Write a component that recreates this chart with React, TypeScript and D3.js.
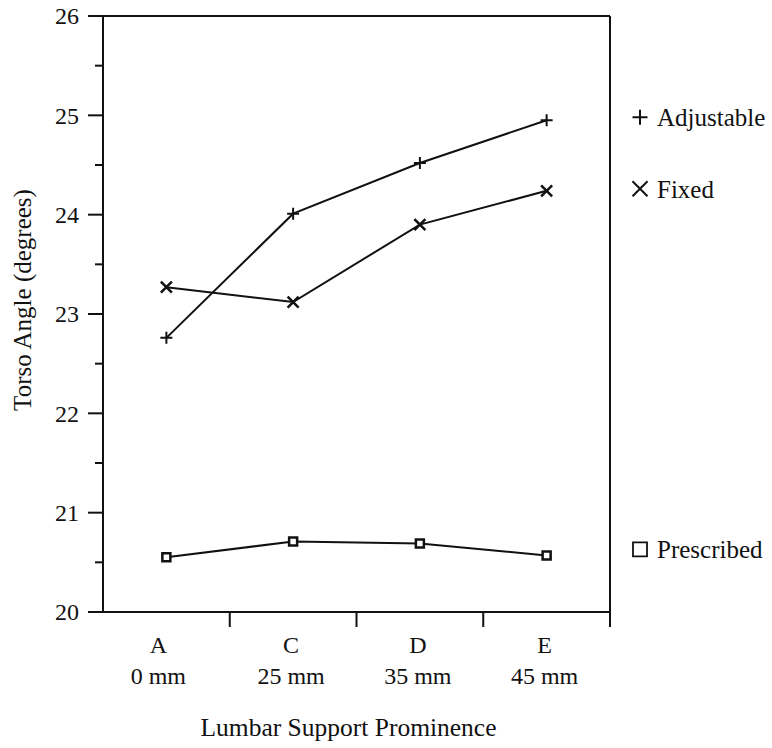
import React, { useEffect, useRef } from 'react';
import * as d3 from 'd3';

const CATEGORIES = ['A', 'C', 'D', 'E'];
const CATEGORY_MM = ['0 mm', '25 mm', '35 mm', '45 mm'];
const ADJUSTABLE = [22.76, 24.01, 24.52, 24.95];
const FIXED = [23.27, 23.12, 23.9, 24.24];
const PRESCRIBED = [20.55, 20.71, 20.69, 20.57];
const Y_TICKS = [20, 21, 22, 23, 24, 25, 26];
const Y_MINOR = [20.5, 21.5, 22.5, 23.5, 24.5, 25.5];

const SERIES = [
  { name: 'Adjustable', values: ADJUSTABLE, marker: 'plus', legendDy: -3 },
  { name: 'Fixed', values: FIXED, marker: 'cross', legendDy: -2 },
  { name: 'Prescribed', values: PRESCRIBED, marker: 'square', legendDy: -6 },
];

const FONT = '"Liberation Serif", "Times New Roman", serif';

function markerPath(kind: string, s: number) {
  if (kind === 'plus') return `M${-s},0H${s}M0,${-s}V${s}`;
  if (kind === 'cross') return `M${-s},${-s}L${s},${s}M${-s},${s}L${s},${-s}`;
  return `M${-s},${-s}H${s}V${s}H${-s}Z`;
}

export default function App() {
  const svgRef = useRef<SVGSVGElement>(null);

  useEffect(() => {
    const width = 772;
    const height = 748;
    const margin = { top: 16, right: 162, bottom: 136, left: 103 };
    const innerW = width - margin.left - margin.right;
    const innerH = height - margin.top - margin.bottom;

    const svg = d3.select(svgRef.current);
    svg.selectAll('*').remove();
    svg.attr('width', width).attr('height', height).attr('viewBox', `0 0 ${width} ${height}`);

    const x = d3.scaleBand<string>().domain(CATEGORIES).range([margin.left, margin.left + innerW]);
    const y = d3.scaleLinear().domain([20, 26]).range([margin.top + innerH, margin.top]);
    const cx = (c: string) => (x(c) as number) + x.bandwidth() / 2;

    const ink = '#111';

    // Frame: left, bottom, top, right
    const x0 = margin.left, x1 = margin.left + innerW;
    const yb = y(20), yt = y(26);
    const frame = svg.append('g').attr('stroke', ink).attr('stroke-width', 2).attr('fill', 'none');
    frame.append('line').attr('x1', x0).attr('x2', x0).attr('y1', yt).attr('y2', yb);
    frame.append('line').attr('x1', x0 - 15).attr('x2', x1).attr('y1', yb).attr('y2', yb);
    frame.append('line').attr('x1', x0 - 15).attr('x2', x1).attr('y1', yt).attr('y2', yt);
    frame.append('line').attr('x1', x1).attr('x2', x1).attr('y1', yt).attr('y2', yb + 15);

    // Y ticks
    Y_TICKS.forEach(t => {
      frame.append('line').attr('x1', x0 - 15).attr('x2', x0).attr('y1', y(t)).attr('y2', y(t));
      svg.append('text').attr('x', x0 - 24).attr('y', y(t)).attr('dy', '0.35em')
        .attr('text-anchor', 'end').style('font-family', FONT).style('font-size', '24px')
        .style('fill', ink).text(t);
    });
    Y_MINOR.forEach(t => {
      frame.append('line').attr('x1', x0 - 8).attr('x2', x0).attr('y1', y(t)).attr('y2', y(t));
    });

    // X ticks at band boundaries (skip the left edge)
    CATEGORIES.forEach((c, i) => {
      const bx = (x(c) as number) + x.bandwidth();
      if (i < CATEGORIES.length - 1) {
        frame.append('line').attr('x1', bx).attr('x2', bx).attr('y1', yb).attr('y2', yb + 15);
      }
      const lx = cx(c) + (i === 0 ? -8 : -2);
      svg.append('text').attr('x', lx).attr('y', yb + 41).attr('text-anchor', 'middle')
        .style('font-family', FONT).style('font-size', '24px').style('fill', ink).text(c);
      svg.append('text').attr('x', lx).attr('y', yb + 72).attr('text-anchor', 'middle')
        .style('font-family', FONT).style('font-size', '24px').style('fill', ink).text(CATEGORY_MM[i]);
    });

    // Axis titles
    svg.append('text').attr('x', (x0 + x1) / 2 - 8).attr('y', yb + 124).attr('text-anchor', 'middle')
      .style('font-family', FONT).style('font-size', '25.5px').style('fill', ink)
      .text('Lumbar Support Prominence');
    svg.append('text').attr('transform', `translate(31,300) rotate(-90)`)
      .attr('text-anchor', 'middle').style('font-family', FONT).style('font-size', '25px')
      .style('fill', ink).text('Torso Angle (degrees)');

    // Series
    const line = d3.line<number>().x((_, i) => cx(CATEGORIES[i])).y(v => y(v));
    SERIES.forEach(s => {
      svg.append('path').datum(s.values).attr('d', line)
        .attr('fill', 'none').attr('stroke', ink).attr('stroke-width', 2);
      const size = s.marker === 'square' ? 4 : s.marker === 'cross' ? 5.5 : 6;
      s.values.forEach((v, i) => {
        svg.append('path').attr('transform', `translate(${cx(CATEGORIES[i])},${y(v)})`)
          .attr('d', markerPath(s.marker, size))
          .attr('fill', s.marker === 'square' ? 'white' : 'none')
          .attr('stroke', ink).attr('stroke-width', s.marker === 'plus' ? 2 : 2.5);
      });

      // Legend entry, aligned with the last point
      const ly = y(s.values[s.values.length - 1]) + s.legendDy;
      const ms = s.marker === 'square' ? 7 : 7.5;
      svg.append('path').attr('transform', `translate(640,${ly})`)
        .attr('d', markerPath(s.marker, ms)).attr('fill', 'none')
        .attr('stroke', ink).attr('stroke-width', s.marker === 'square' ? 1.8 : 2);
      svg.append('text').attr('x', 657).attr('y', ly).attr('dy', '0.35em')
        .style('font-family', FONT).style('font-size', '25px').style('fill', ink).text(s.name);
    });
  }, []);

  return (
    <div style={{ position: 'absolute', left: 0, top: 0, background: 'white' }}>
      <svg ref={svgRef}></svg>
    </div>
  );
}
